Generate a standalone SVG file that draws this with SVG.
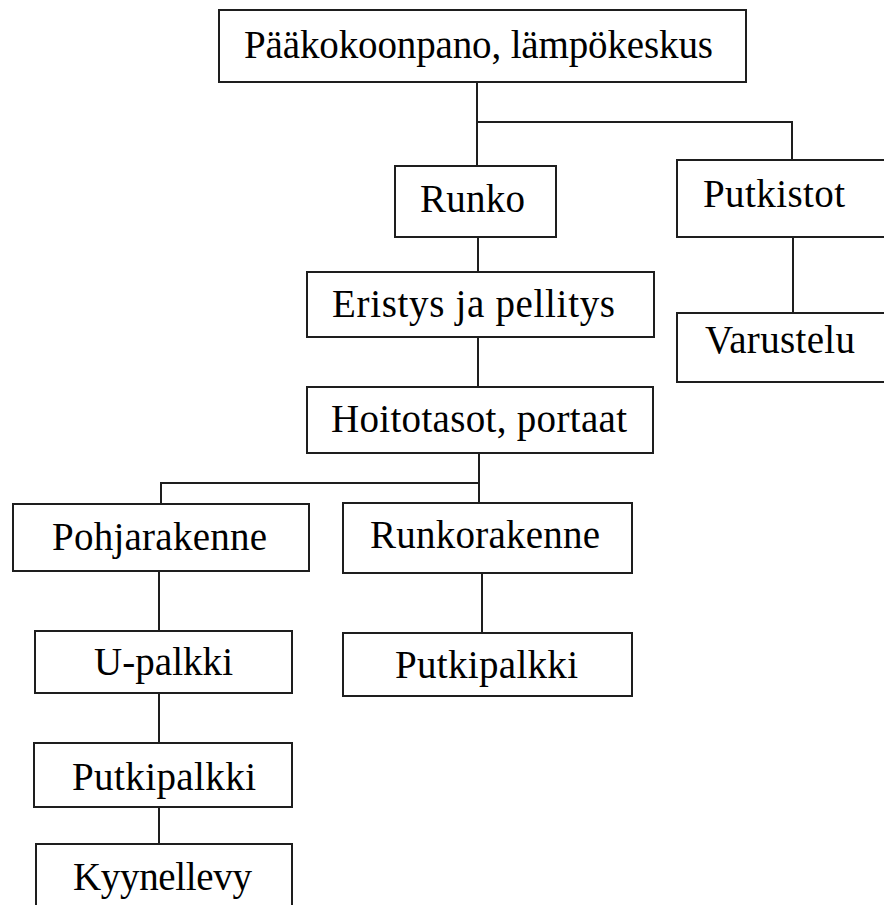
<svg xmlns="http://www.w3.org/2000/svg" width="884" height="905" viewBox="0 0 884 905">
  <style>
    .box { fill: #ffffff; stroke: #1e1e1e; stroke-width: 2; }
    .lbl { font-family: "Liberation Serif", "Times New Roman", serif; font-size: 39px; fill: #000000; }
    .wire { fill: none; stroke: #1e1e1e; stroke-width: 2; }
  </style>
  <rect width="884" height="905" fill="#ffffff"/>

  <g id="connectors">
    <path class="wire" d="M477 82 V166 M477 122 H792 V160"/>
    <path class="wire" d="M478 237 V272"/>
    <path class="wire" d="M478 337 V387"/>
    <path class="wire" d="M793 237 V313"/>
    <path class="wire" d="M479 453 V503 M479 483 H161 V504"/>
    <path class="wire" d="M159 571 V631"/>
    <path class="wire" d="M482 573 V633"/>
    <path class="wire" d="M159 693 V743"/>
    <path class="wire" d="M159 807 V844"/>
  </g>

  <g id="paakokoonpano">
    <rect class="box" x="219" y="10" width="527" height="72"/>
    <text class="lbl" x="244" y="58" textLength="469">Pääkokoonpano, lämpökeskus</text>
  </g>
  <g id="runko">
    <rect class="box" x="395" y="166" width="161" height="71"/>
    <text class="lbl" x="420" y="212" textLength="105">Runko</text>
  </g>
  <g id="putkistot">
    <rect class="box" x="677" y="160" width="220" height="77"/>
    <text class="lbl" x="703" y="207" textLength="142">Putkistot</text>
  </g>
  <g id="eristys">
    <rect class="box" x="307" y="272" width="347" height="65"/>
    <text class="lbl" x="332" y="317" textLength="283">Eristys ja pellitys</text>
  </g>
  <g id="varustelu">
    <rect class="box" x="677" y="313" width="220" height="69"/>
    <text class="lbl" x="705" y="353" textLength="150">Varustelu</text>
  </g>
  <g id="hoitotasot">
    <rect class="box" x="307" y="387" width="346" height="66"/>
    <text class="lbl" x="331" y="432" textLength="296">Hoitotasot, portaat</text>
  </g>
  <g id="pohjarakenne">
    <rect class="box" x="13" y="504" width="296" height="67"/>
    <text class="lbl" x="52" y="550" textLength="215">Pohjarakenne</text>
  </g>
  <g id="runkorakenne">
    <rect class="box" x="343" y="503" width="289" height="70"/>
    <text class="lbl" x="370" y="548" textLength="230">Runkorakenne</text>
  </g>
  <g id="u-palkki">
    <rect class="box" x="35" y="631" width="257" height="62"/>
    <text class="lbl" x="94" y="675" textLength="139">U-palkki</text>
  </g>
  <g id="putkipalkki-runko">
    <rect class="box" x="343" y="633" width="289" height="63"/>
    <text class="lbl" x="395" y="678" textLength="183">Putkipalkki</text>
  </g>
  <g id="putkipalkki-pohja">
    <rect class="box" x="34" y="743" width="258" height="64"/>
    <text class="lbl" x="72" y="790" textLength="184">Putkipalkki</text>
  </g>
  <g id="kyynellevy">
    <rect class="box" x="36" y="844" width="256" height="80"/>
    <text class="lbl" x="73" y="890" textLength="179">Kyynellevy</text>
  </g>
</svg>
